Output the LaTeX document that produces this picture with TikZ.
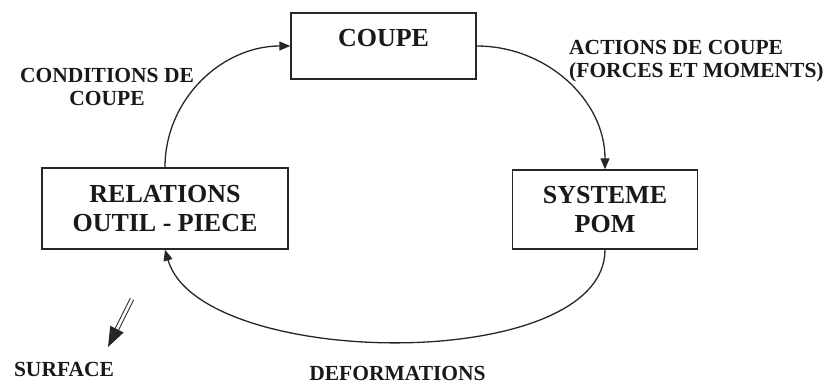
\documentclass[tikz,border=0pt]{standalone}
\usepackage{fontspec}
\setmainfont{Liberation Serif}
\usetikzlibrary{arrows.meta,calc}
\begin{document}
\begin{tikzpicture}[x=1pt,y=-1pt,
  box/.style={draw=black!85, line width=1.4pt, inner sep=0pt, align=center,
    font=\fontsize{26}{29}\selectfont\bfseries, text=black!90},
  lbl/.style={font=\fontsize{21.5}{23}\selectfont\bfseries, text=black!90, inner sep=0pt},
  flow/.style={draw=black!85, line width=1.3pt, -{Triangle[length=11pt,width=9pt]}}]
\useasboundingbox (0,0) rectangle (832,384);
\node[box, minimum width=185pt, minimum height=66pt, text height=33.6pt, text depth=32.4pt] (coupe) at (383.5,46) {COUPE};
\node[box, minimum width=246pt, minimum height=81pt] (rel) at (165,208.5) {RELATIONS\\OUTIL - PIECE};
\node[box, minimum width=185pt, minimum height=79pt] (sys) at (605,209.5) {SYSTEME\\POM};
\draw[flow] (rel.north) to[out=90,in=180] (coupe.west);
\draw[flow] (coupe.east) to[out=0,in=90] (sys.north);
\draw[flow] (sys.south) .. controls +(0,125) and +(35,120) .. (rel.south);
\node[lbl, align=center] (cond) at (107,86.5) {CONDITIONS DE\\COUPE};
\node[lbl, align=left, anchor=west] (act) at (569,61.5) {ACTIONS DE COUPE\\(FORCES ET MOMENTS)};
\node[lbl] (def) at (397.5,373.5) {DEFORMATIONS};
\node[lbl] (surf) at (64,369.5) {SURFACE};
\coordinate (s1) at (132,299);
\coordinate (s2) at (108,347);
\coordinate (sb) at ($(s2)!20pt!(s1)$);
\draw[draw=black!85, line width=1pt, double distance=2.5pt] (s1) -- ($(s2)!17pt!(s1)$);
\fill[black!85] (s2) -- ($(sb)!7.5pt!90:(s2)$) -- ($(sb)!7.5pt!-90:(s2)$) -- cycle;
\end{tikzpicture}
\end{document}
